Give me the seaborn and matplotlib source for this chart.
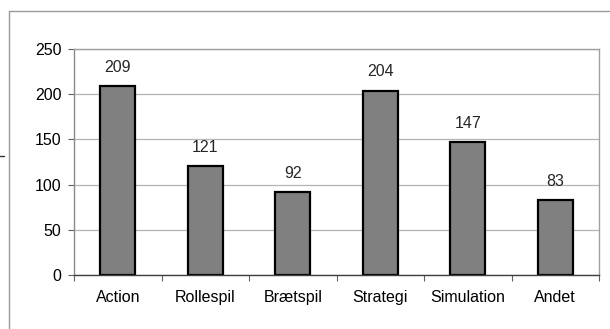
import numpy as np
import pandas as pd
import matplotlib
matplotlib.use("Agg")
import matplotlib.pyplot as plt
import seaborn as sns
from matplotlib.lines import Line2D

categories = ["Action", "Rollespil", "Brætspil", "Strategi", "Simulation", "Andet"]
values = [209, 121, 92, 204, 147, 83]
yticks = [0, 50, 100, 150, 200, 250]

sns.set_theme(style="white")
plt.rcParams['font.family'] = ['Liberation Sans', 'DejaVu Sans']

W, H = 610, 329
FS = 11.5
fig = plt.figure(figsize=(W / 100, H / 100), dpi=100)
ax = fig.add_axes([74 / W, 1 - 275 / H, (599 - 74) / W, (275 - 49) / H])

df = pd.DataFrame({"cat": categories, "val": values})
sns.barplot(data=df, x="cat", y="val", ax=ax, color="#808080", saturation=1,
            width=0.4, edgecolor="black", linewidth=1.6)

ax.set_xlim(-0.5, len(categories) - 0.5)
ax.set_ylim(0, 250)
ax.set_yticks(yticks)
ax.set_xlabel("")
ax.set_ylabel("")
ax.yaxis.grid(True, color="#b4b4b4", linewidth=0.9)
ax.set_axisbelow(True)

for s in ["top", "right"]:
    ax.spines[s].set_color("#a0a0a0")
    ax.spines[s].set_linewidth(1.0)
ax.spines["left"].set_color("#8a8a8a")
ax.spines["left"].set_linewidth(1.0)
ax.spines["bottom"].set_color("#404040")
ax.spines["bottom"].set_linewidth(1.0)

ax.set_xticks(np.arange(-0.5, len(categories), 1), minor=True)
ax.tick_params(axis="x", which="major", length=0, pad=11, labelsize=FS, colors="black")
ax.tick_params(axis="x", which="minor", length=4, width=0.8, color="#606060", direction="out", bottom=True)
ax.tick_params(axis="y", which="major", length=4, width=0.8, color="#606060", direction="out",
               left=True, pad=5, labelsize=FS, labelcolor="black")

for c in ax.containers:
    ax.bar_label(c, labels=[str(v) for v in values], padding=8, fontsize=FS)

# outer chart frame (cropped) and small dash
fig.add_artist(Line2D([9 / W, 9 / W], [0, 1 - 11 / H], transform=fig.transFigure,
                      color="#9a9a9a", linewidth=1.0))
fig.add_artist(Line2D([9 / W, 1], [1 - 11 / H, 1 - 11 / H], transform=fig.transFigure,
                      color="#9a9a9a", linewidth=1.0))
fig.add_artist(Line2D([0, 4 / W], [1 - 156 / H, 1 - 156 / H], transform=fig.transFigure,
                      color="#303030", linewidth=1.0))

fig.savefig("out.png", dpi=100, facecolor="white")
